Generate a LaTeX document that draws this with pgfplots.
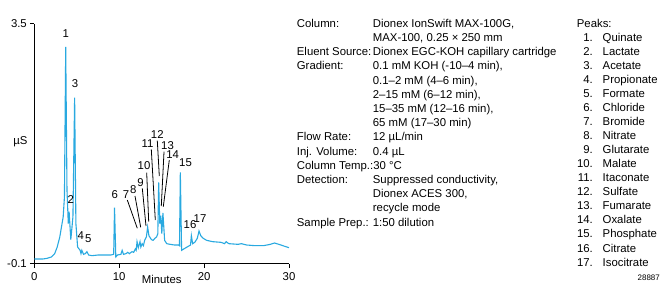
\documentclass[border=0pt]{standalone}
\usepackage{pgfplots}
\pgfplotsset{compat=1.18}
\usepackage{fontspec}
\setmainfont{Liberation Sans}
\definecolor{trace}{HTML}{29A9E0}
\begin{document}
\fontsize{11.4}{14.2}\selectfont
\begin{tikzpicture}[x=1bp,y=1bp]
\useasboundingbox (0,0) rectangle (664,284);
\begin{axis}[
  at={(34.3bp,27bp)}, anchor=origin,
  scale only axis, width=254.7bp, height=240bp,
  xmin=0, xmax=30, ymin=-0.1, ymax=3.5,
  axis x line=bottom, axis y line=left,
  axis line style={-, line width=0.8pt},
  xtick={0,10,20,30}, ytick={-0.1,3.5},
  yticklabels={-0.1,3.5},
  tick align=outside, major tick length=4.5bp,
  tick style={line width=0.8pt, black},
  /pgf/number format/assume math mode=true,
  ticklabel style={font=\fontsize{11.4}{13}\selectfont},
  xticklabel style={yshift=-0.5bp},
  yticklabel style={xshift=1bp},
  clip=false,
]
\addplot[trace, line width=1.1bp] coordinates {
(0,-0.03) (1,-0.03) (1.5,-0.02) (2,0.0) (2.4,0.05) (2.7,0.15) (3.0,0.3) (3.2,0.45) (3.4,0.6) (3.55,0.9)
(3.7,3.15) (3.85,1.0) (3.95,0.68) (4.0,0.5) (4.1,0.68) (4.3,0.26) (4.55,0.6) (4.75,2.39) (4.9,0.5)
(5.1,0.15) (5.4,0.1) (5.5,0.05) (5.6,0.1) (5.8,0.04) (6.0,0.05) (6.2,0.08) (6.4,0.03) (6.8,0.02)
(7.5,0.03) (8,0.03) (9,0.03) (9.35,0.04) (9.45,0.74) (9.6,0.0) (9.8,0.03) (10.2,0.04) (10.35,0.1)
(10.5,0.04) (10.8,0.05) (11,0.07) (11.2,0.05) (11.5,0.08) (11.7,0.07) (11.9,0.12) (12.0,0.1)
(12.1,0.23) (12.25,0.14) (12.45,0.23) (12.55,0.15) (12.7,0.2) (12.85,0.17) (13.0,0.25) (13.2,0.3)
(13.35,0.45) (13.5,0.32) (13.8,0.26) (14.0,0.25) (14.2,0.28) (14.4,0.3) (14.55,0.35) (14.65,1.12)
(14.78,0.5) (14.9,0.62) (15.02,0.35) (15.15,0.66) (15.35,0.25) (15.6,0.2) (16,0.19) (16.5,0.18)
(17.0,0.18) (17.1,0.17) (17.2,1.27) (17.35,0.1) (17.6,0.12) (18,0.15) (18.4,0.18) (18.5,0.32)
(18.65,0.2) (18.9,0.22) (19.2,0.28) (19.4,0.39) (19.6,0.32) (19.9,0.28) (20.3,0.25) (21,0.23)
(22,0.22) (22.4,0.2) (22.6,0.23) (22.9,0.2) (24,0.19) (24.4,0.2) (25,0.18) (26,0.17) (27,0.17)
(27.8,0.19) (28.3,0.21) (28.8,0.19) (29.5,0.16) (30,0.14)
};
\end{axis}
% axis titles
\node at (20.5,142.3) {µS};
\node at (161.7,5) {Minutes};
% peak labels
\foreach \n/\x/\y in {1/65.7/250.7, 2/70.7/84.7, 3/75/200, 4/80.7/48.3, 5/88.3/45, 6/114.7/89,
  7/126/89.5, 8/133.3/94, 9/140.5/101.5, 10/144/118.5, 11/147.5/140.7, 12/157.3/149,
  13/167.5/138.5, 14/172.7/129, 15/185.5/121.7, 16/190/59.8, 17/200/65.7}
  {\node[inner sep=0pt] at (\x,\y) {\n};}
\foreach \a/\b/\c/\d in {127.3/84/137.3/55.7, 135/88/140.7/56.7, 142.3/95.7/146/58,
  146.7/111.3/148.7/62.3, 151.3/134.7/155.3/64, 157.3/143.3/159.3/108,
  164/132.3/161.3/78, 169.3/124/163.3/77.3}
  {\draw[line width=0.8pt] (\a,\b) -- (\c,\d);}
% conditions
\foreach \i/\l/\v in {0/Column:/{Dionex IonSwift MAX-100G,}, 1//{MAX-100, 0.25 × 250 mm},
  2/Eluent Source:/{Dionex EGC-KOH capillary cartridge}, 3/Gradient:/{0.1 mM KOH (-10–4 min),},
  4//{0.1–2 mM (4–6 min),}, 5//{2–15 mM (6–12 min),}, 6//{15–35 mM (12–16 min),},
  7//{65 mM (17–30 min)}, 8/Flow Rate:/{12 µL/min}, 9/Inj. Volume:/{0.4 µL},
  11/Detection:/{Suppressed conductivity,}, 12//{Dionex ACES 300,},
  13//{recycle mode}, 14/Sample Prep.:/{1:50 dilution}}
  {\node[anchor=base west, inner sep=0pt] at (296.7,{284-27.2-14.2*\i}) {\l};
   \node[anchor=base west, inner sep=0pt] at (372.7,{284-27.2-14.2*\i}) {\v};}
\node[anchor=base west, inner sep=0pt] at (296.7,{284-27.2-14.2*10}) {Column Temp.:30 °C};
\node[anchor=base west, inner sep=0pt] at (576.7,{284-27.2}) {Peaks:};
\foreach \i/\p in {1/Quinate, 2/Lactate, 3/Acetate, 4/Propionate, 5/Formate, 6/Chloride,
  7/Bromide, 8/Nitrate, 9/Glutarate, 10/Malate, 11/Itaconate, 12/Sulfate, 13/Fumarate,
  14/Oxalate, 15/Phosphate, 16/Citrate, 17/Isocitrate}
  {\node[anchor=base east, inner sep=0pt] at (593,{284-27.2-14.05*\i}) {\i.};
   \node[anchor=base west, inner sep=0pt] at (602.5,{284-27.2-14.05*\i}) {\p};}
\node[anchor=base east, inner sep=0pt, font=\fontsize{8}{9}\selectfont] at (660,4) {28887};
\end{tikzpicture}
\end{document}
